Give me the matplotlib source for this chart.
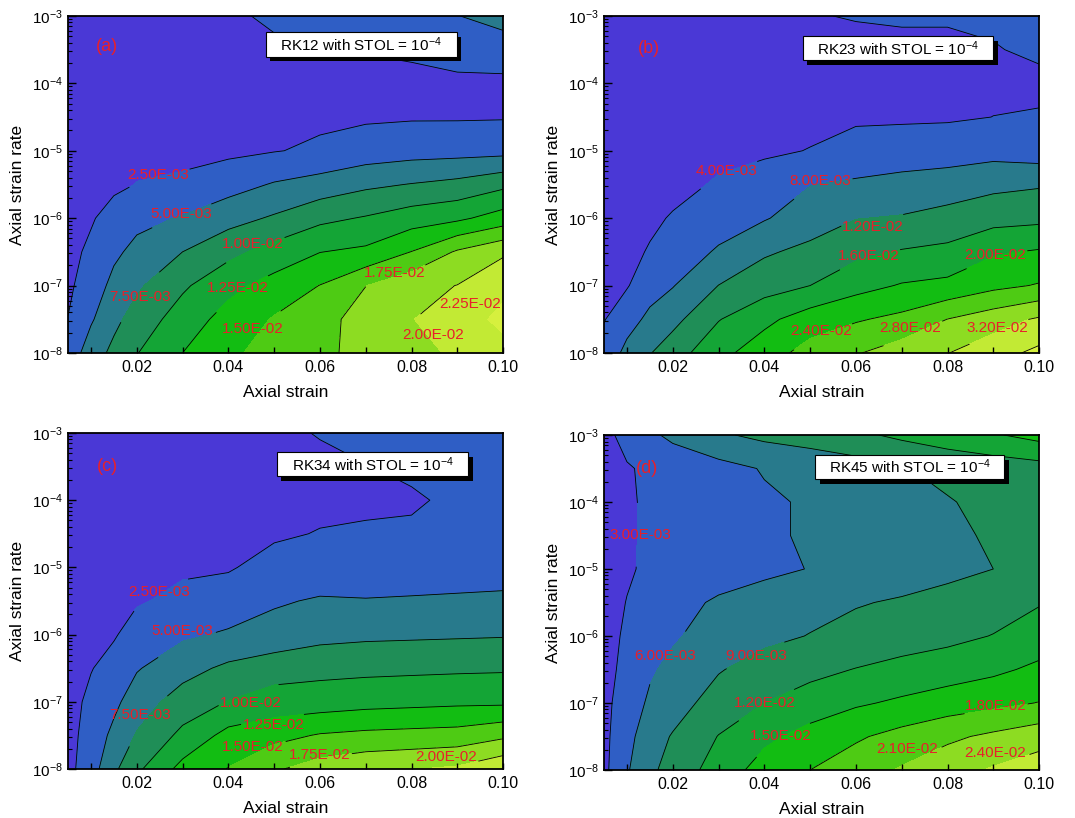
import numpy as np
import matplotlib
matplotlib.use("agg")
import matplotlib.pyplot as plt
from matplotlib.patches import Rectangle
from matplotlib.ticker import FixedLocator

plt.rcParams['font.family'] = ['Liberation Sans', 'DejaVu Sans']
plt.rcParams['mathtext.fontset'] = 'custom'
plt.rcParams['mathtext.rm'] = 'Liberation Sans'
plt.rcParams['mathtext.it'] = 'Liberation Sans:italic'
plt.rcParams['mathtext.bf'] = 'Liberation Sans:bold'

# grid: axial strain (columns) and log10 of axial strain rate (rows)
strain = [0.005, 0.01, 0.015, 0.02, 0.03, 0.04, 0.05, 0.06, 0.07, 0.08, 0.09, 0.10]
log_rate = [-8.0, -7.5, -7.0, -6.5, -6.0, -5.5, -5.0, -4.5, -4.0, -3.5, -3.0]

# error fields, in units of 1e-3
err_rk12 = [
    [3.4, 6.3, 8.1, 9.9, 12.5, 14.5, 16.0, 17.0, 18.2, 19.0, 20.5, 21.8],
    [2.55, 4.7, 6.9, 8.5, 11.2, 13.4, 15.2, 16.2, 19.0, 19.9, 21.5, 23.0],
    [2.1, 3.6, 5.7, 7.1, 9.6, 11.8, 13.4, 15.05, 17.45, 19.2, 20.05, 22.0],
    [1.9, 2.9, 4.5, 5.7, 7.5, 9.3, 11.0, 12.45, 13.0, 15.05, 17.8, 19.6],
    [1.8, 2.3, 3.3, 4.3, 5.2, 6.6, 7.8, 9.4, 10.2, 11.3, 12.0, 13.6],
    [1.7, 2.0, 2.1, 2.55, 2.9, 4.0, 5.2, 6.0, 7.0, 7.6, 8.2, 9.4],
    [1.6, 1.8, 1.9, 2.0, 1.9, 2.0, 2.4, 2.85, 3.6, 4.0, 4.1, 4.2],
    [1.5, 1.7, 1.7, 1.8, 1.8, 1.9, 2.1, 2.1, 2.2, 2.3, 2.3, 2.35],
    [1.5, 1.6, 1.6, 1.7, 1.8, 1.9, 2.0, 2.1, 2.2, 2.25, 2.3, 2.3],
    [1.5, 1.6, 1.6, 1.7, 1.8, 2.0, 2.3, 2.4, 2.55, 2.65, 2.9, 3.0],
    [1.5, 1.6, 1.6, 1.7, 1.8, 2.3, 2.7, 2.9, 3.4, 4.3, 4.9, 6.5],
]
err_rk23 = [
    [5.6, 9.0, 11.8, 14.2, 18.8, 22.2, 25.5, 27.7, 30.0, 31.9, 34.4, 37.0],
    [3.8, 6.6, 8.8, 10.8, 15.8, 19.0, 22.0, 23.6, 25.0, 28.05, 30.2, 32.5],
    [3.0, 3.7, 6.6, 7.8, 12.05, 14.3, 16.0, 18.6, 20.3, 21.0, 23.0, 24.3],
    [2.6, 3.0, 4.3, 6.0, 8.4, 11.5, 13.0, 15.0, 16.3, 17.0, 19.5, 20.4],
    [2.4, 2.6, 3.3, 4.3, 6.4, 7.7, 10.0, 11.9, 12.3, 13.3, 14.6, 15.0],
    [2.2, 2.3, 2.7, 2.9, 4.4, 5.5, 7.9, 8.6, 9.3, 10.0, 11.0, 11.6],
    [2.0, 2.1, 2.3, 2.4, 3.1, 3.5, 4.1, 5.3, 5.8, 6.0, 6.6, 5.8],
    [1.9, 2.0, 2.1, 2.2, 2.6, 2.8, 3.2, 3.5, 3.5, 3.6, 4.02, 4.15],
    [1.8, 1.9, 2.0, 2.0, 2.3, 2.4, 2.8, 3.1, 3.2, 3.3, 3.5, 3.6],
    [1.8, 1.9, 1.9, 2.0, 2.2, 2.3, 3.0, 3.5, 3.6, 3.7, 3.9, 4.3],
    [1.8, 1.9, 1.9, 2.0, 2.3, 2.5, 3.9, 4.1, 4.2, 4.15, 4.3, 4.6],
]
err_rk34 = [
    [1.8, 3.9, 7.0, 9.5, 13.3, 15.1, 17.2, 18.6, 19.5, 19.9, 20.4, 22.0],
    [1.7, 3.5, 5.6, 7.7, 10.6, 13.3, 14.2, 15.2, 15.6, 15.8, 16.0, 17.0],
    [1.7, 3.0, 4.4, 6.3, 8.6, 10.1, 11.0, 11.2, 11.6, 11.8, 12.0, 12.0],
    [1.6, 2.4, 3.3, 4.8, 6.6, 8.0, 9.0, 9.3, 9.4, 9.5, 9.6, 9.7],
    [1.6, 2.0, 2.3, 3.4, 4.6, 5.3, 5.74, 6.7, 7.0, 7.1, 7.2, 7.3],
    [1.6, 1.8, 2.0, 2.3, 3.0, 3.6, 4.77, 5.2, 5.1, 5.2, 5.3, 5.4],
    [1.5, 1.7, 1.8, 1.9, 2.2, 2.3, 3.3, 3.8, 3.9, 3.9, 4.0, 4.1],
    [1.5, 1.6, 1.7, 1.8, 1.9, 2.0, 2.2, 2.6, 2.7, 2.75, 3.2, 3.4],
    [1.5, 1.6, 1.6, 1.7, 1.8, 1.9, 2.0, 2.0, 2.2, 2.3, 2.8, 3.1],
    [1.5, 1.6, 1.6, 1.7, 1.8, 1.9, 2.0, 2.1, 2.45, 2.8, 3.1, 3.3],
    [1.5, 1.6, 1.6, 1.7, 1.8, 1.9, 2.1, 2.6, 3.0, 3.4, 3.6, 3.8],
]
err_rk45 = [
    [2.3, 5.7, 8.3, 10.3, 13.2, 16.3, 18.0, 19.6, 21.3, 22.9, 24.3, 25.5],
    [2.3, 5.0, 7.8, 9.2, 12.1, 14.3, 16.1, 17.6, 19.0, 20.4, 21.6, 22.8],
    [2.3, 4.3, 6.5, 7.8, 10.2, 12.0, 13.3, 14.6, 15.5, 16.4, 17.2, 18.1],
    [2.3, 3.6, 5.6, 6.8, 8.8, 10.2, 11.2, 12.1, 12.9, 13.6, 14.4, 15.6],
    [2.3, 3.3, 4.5, 5.6, 7.5, 8.3, 9.1, 9.9, 10.6, 11.2, 12.1, 13.4],
    [2.3, 3.05, 4.0, 5.0, 6.4, 7.4, 8.1, 8.8, 9.3, 9.9, 10.6, 11.8],
    [2.3, 2.8, 3.3, 3.9, 4.6, 5.3, 6.1, 6.9, 7.6, 8.3, 9.0, 9.6],
    [2.3, 2.75, 3.3, 3.8, 4.8, 5.6, 6.3, 7.0, 7.7, 8.5, 9.3, 10.0],
    [2.3, 2.75, 3.3, 3.8, 4.7, 5.6, 6.3, 7.0, 7.8, 8.8, 9.8, 10.5],
    [2.3, 2.8, 3.4, 3.9, 5.0, 6.2, 6.9, 7.6, 8.8, 9.8, 10.3, 10.8],
    [2.3, 3.8, 5.4, 6.7, 8.6, 9.7, 10.4, 11.4, 12.6, 13.6, 14.7, 16.0],
]

# contour levels, units of 1e-3
levels_rk12 = [2.5, 5.0, 7.5, 10.0, 12.5, 15.0, 17.5, 20.0, 22.5]
levels_rk23 = [4.0, 8.0, 12.0, 16.0, 20.0, 24.0, 28.0, 32.0, 36.0]
levels_rk34 = [2.5, 5.0, 7.5, 10.0, 12.5, 15.0, 17.5, 20.0]
levels_rk45 = [3.0, 6.0, 9.0, 12.0, 15.0, 18.0, 21.0, 24.0]

titles = ['RK12', 'RK23', 'RK34', 'RK45']
letters = ['(a)', '(b)', '(c)', '(d)']

# where each level's label sits (strain, log10 rate)
label_pos = [
    [(0.0247, -5.36), (0.0297, -5.94), (0.0207, -7.17), (0.0454, -6.39), (0.0421, -7.04),
     (0.0454, -7.65), (0.0763, -6.81), (0.0847, -7.73), (0.0927, -7.28)],
    [(0.0318, -5.30), (0.0523, -5.45), (0.0636, -6.13), (0.0628, -6.56), (0.0905, -6.54),
     (0.0523, -7.68), (0.0719, -7.63), (0.0909, -7.63)],
    [(0.0249, -5.37), (0.0300, -5.94), (0.0207, -7.19), (0.0450, -7.02), (0.0499, -7.34),
     (0.0454, -7.67), (0.0600, -7.79), (0.0876, -7.82)],
    [(0.0129, -4.49), (0.0183, -6.30), (0.0382, -6.30), (0.0402, -7.00), (0.0435, -7.49),
     (0.0905, -7.04), (0.0712, -7.68), (0.0905, -7.75)],
]
letter_pos = [(0.0134, -3.45), (0.0147, -3.48), (0.0137, -3.50), (0.0143, -3.50)]
box_pos = [(0.454, 0.879, 0.440, 0.073), (0.457, 0.868, 0.438, 0.072),
           (0.480, 0.871, 0.440, 0.072), (0.485, 0.868, 0.435, 0.072)]
ax_pos = [[0.0633, 0.5685, 0.4047, 0.4120], [0.5619, 0.5685, 0.4047, 0.4120],
          [0.0633, 0.0599, 0.4047, 0.4108], [0.5619, 0.0587, 0.4047, 0.4095]]

band_colors = ['#4a38d6', '#2f5ec5', '#287a8c', '#1f8e57', '#14a536',
               '#12bd12', '#4ecb14', '#8ddc22', '#c2ea34', '#d6f03e']
label_red = '#e8202a'

fig = plt.figure(figsize=(10.75, 8.18), dpi=100)


def draw_panel(ax, err, levels, lpos, letter, name, lp, bp):
    z = np.array(err) * 1e-3
    lv = np.array(levels) * 1e-3
    bounds = np.concatenate(([0.0], lv, [1.0]))
    ax.contourf(strain, log_rate, z, levels=bounds, colors=band_colors[:len(bounds) - 1])
    # one contour set per level so each label lands on its own line
    for k, lev in enumerate(lv):
        cs = ax.contour(strain, log_rate, z, levels=[lev], colors='black', linewidths=0.6)
        if k < len(lpos):
            pos = lpos[k]
            cs.clabel(manual=[pos], inline=True, inline_spacing=1, fontsize=11,
                      colors=[label_red], fmt=lambda v: f"{v:.2E}")
            t = ax.texts[-1]
            t.set_rotation(0)
            t.set_position(pos)

    ax.text(lp[0], lp[1], letter, color=label_red, fontsize=13, ha='center', va='center')

    # title box with a drop shadow
    bx, by, bw, bh = bp
    ax.add_patch(Rectangle((bx + 0.0103, by - 0.0134), bw, bh, transform=ax.transAxes,
                           fc='black', ec='none', zorder=5))
    ax.add_patch(Rectangle((bx, by), bw, bh, transform=ax.transAxes,
                           fc='white', ec='black', lw=0.8, zorder=6))
    ax.text(bx + bw / 2, by + bh / 2, name + r' with STOL = 10$^{-4}$', transform=ax.transAxes,
            ha='center', va='center', fontsize=11, zorder=7)

    ax.set_xlim(0.005, 0.10)
    ax.set_ylim(-8, -3)
    ax.set_xticks([0.02, 0.04, 0.06, 0.08, 0.10])
    ax.set_xticklabels(['0.02', '0.04', '0.06', '0.08', '0.10'])
    ax.xaxis.set_minor_locator(FixedLocator([0.01, 0.03, 0.05, 0.07, 0.09]))
    ax.set_yticks([-8, -7, -6, -5, -4, -3])
    ax.set_yticklabels([r'$10^{%d}$' % k for k in range(-8, -2)])
    minor = [k + np.log10(m) for k in range(-8, -3) for m in range(2, 10)]
    ax.yaxis.set_minor_locator(FixedLocator(minor))
    ax.tick_params(axis='x', which='both', direction='in', labelsize=11.5, pad=5,
                   top=False, length=4, width=1)
    ax.tick_params(axis='y', which='major', direction='in', labelsize=11, length=6, width=1,
                   right=False)
    ax.tick_params(axis='y', which='minor', direction='in', length=3, width=0.8, right=False)
    for s in ax.spines.values():
        s.set_linewidth(1.3)
    ax.set_xlabel('Axial strain', fontsize=12.5, labelpad=7)
    ax.set_ylabel('Axial strain rate', fontsize=12.5, labelpad=5)


fields = [err_rk12, err_rk23, err_rk34, err_rk45]
level_sets = [levels_rk12, levels_rk23, levels_rk34, levels_rk45]
for i in range(4):
    ax = fig.add_axes(ax_pos[i])
    draw_panel(ax, fields[i], level_sets[i], label_pos[i], letters[i], titles[i],
               letter_pos[i], box_pos[i])

fig.savefig("out.png", dpi=100)
